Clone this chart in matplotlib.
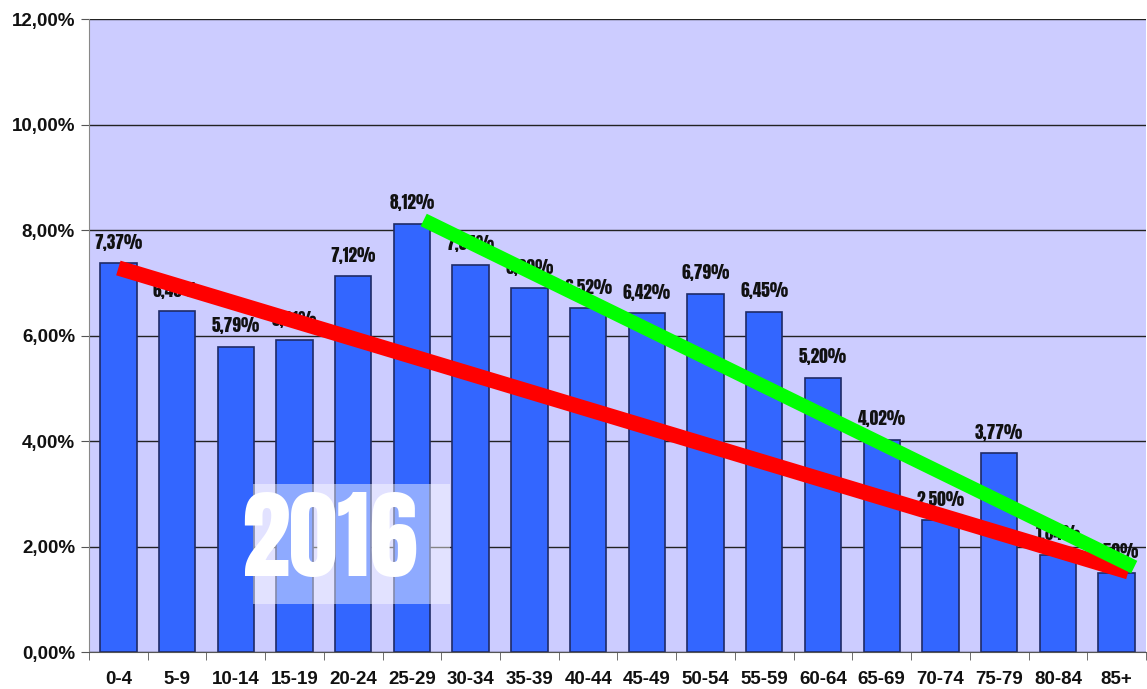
import matplotlib.pyplot as plt
from matplotlib.patches import Rectangle
from matplotlib.ticker import FuncFormatter, FixedLocator
import numpy as np

# Faixas etárias e percentuais
faixas = ["0-4", "5-9", "10-14", "15-19", "20-24", "25-29", "30-34", "35-39", "40-44",
          "45-49", "50-54", "55-59", "60-64", "65-69", "70-74", "75-79", "80-84", "85+"]
valores = [7.37, 6.46, 5.79, 5.91, 7.12, 8.12, 7.34, 6.90, 6.52,
           6.42, 6.79, 6.45, 5.20, 4.02, 2.50, 3.77, 1.84, 1.50]

# Linhas de tendência (x em índice de categoria, y em %)
linha_vermelha_x = [0.0, 17.2]
linha_vermelha_y = [7.28, 1.52]
linha_verde_x = [5.2, 17.3]
linha_verde_y = [8.19, 1.61]

ano = "2016"

fonte_rotulo = ["Anton", "Oswald", "DejaVu Sans"]

fig = plt.figure(figsize=(11.47, 6.89), dpi=100)
ax = fig.add_axes([0.0776, 0.0537, 0.9215, 0.9187])
ax.set_facecolor("#CCCCFF")

x = np.arange(len(faixas))
ax.bar(x, valores, width=0.62, color="#3366FF", edgecolor="#1F2A66", linewidth=1.2, zorder=2)

for xi, v in zip(x, valores):
    ax.annotate(f"{v:.2f}%".replace(".", ","), (xi, v), xytext=(0, 9), textcoords="offset points",
                ha="center", va="bottom", fontsize=12.5, family=fonte_rotulo,
                color="#111111", zorder=3)

ax.plot(linha_vermelha_x, linha_vermelha_y, color="#FF0000", linewidth=11, solid_capstyle="butt", zorder=4)
ax.plot(linha_verde_x, linha_verde_y, color="#00FF00", linewidth=10, solid_capstyle="butt", zorder=5)

# caixa do ano
ax.add_patch(Rectangle((2.29, 0.91), 3.36, 2.27, facecolor="white", alpha=0.45, edgecolor="none", zorder=3.5))
ax.text(3.6, 2.12, ano, ha="center", va="center", fontsize=70, family=fonte_rotulo,
        color="white", zorder=6)

ax.set_xlim(-0.5, len(faixas) - 0.5)
ax.set_ylim(0, 12)
ax.set_yticks(np.arange(0, 12.01, 2))
ax.yaxis.set_major_formatter(FuncFormatter(lambda v, p: f"{v:.2f}%".replace(".", ",")))
ax.grid(axis="y", color="#222222", linewidth=1.0, zorder=1)
ax.set_axisbelow(True)

ax.set_xticks(x)
ax.set_xticklabels(faixas)
ax.xaxis.set_minor_locator(FixedLocator(np.arange(-0.5, len(faixas), 1)))
ax.tick_params(axis="x", which="major", length=0, pad=14)
ax.tick_params(axis="x", which="minor", length=6, color="#555555")
ax.tick_params(axis="y", length=6, color="#555555", pad=4)
for lab in ax.get_xticklabels() + ax.get_yticklabels():
    lab.set_fontsize(13.5)
    lab.set_fontweight("bold")
    lab.set_family("Liberation Sans")
    lab.set_color("#111111")

for s in ["top", "right"]:
    ax.spines[s].set_visible(False)
ax.spines["left"].set_color("#888888")
ax.spines["bottom"].set_color("#555555")

fig.savefig("out.png", dpi=100)
